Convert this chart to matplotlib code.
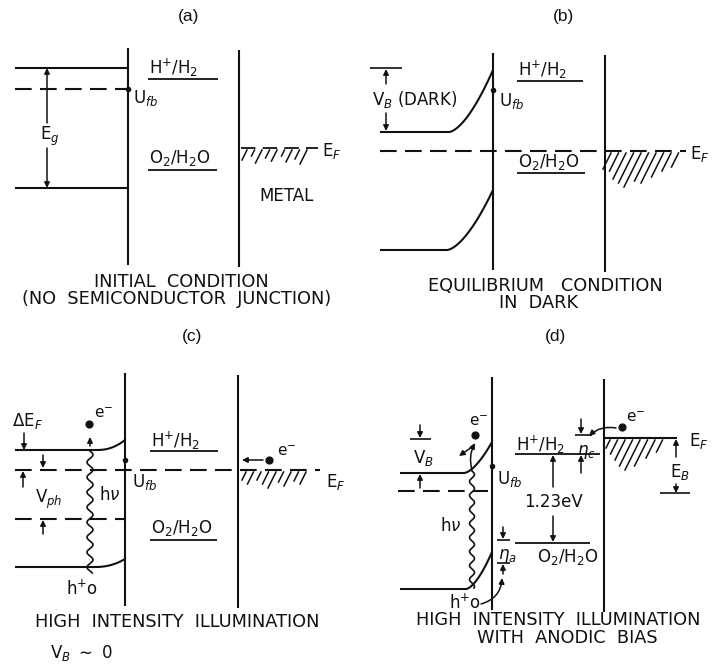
import numpy as np
import matplotlib.pyplot as plt

INK = "#111111"
LW = 1.5
FS = 12
CAP_FS = 12.8

plt.rcParams.update({
    "font.family": "DejaVu Sans",
    "mathtext.fontset": "dejavusans",
    "text.color": INK,
})

# panel tags and captions
tags = ["(a)", "(b)", "(c)", "(d)"]
tag_x = [189, 563, 192, 555]
tag_y = [17, 17, 337, 337]
captions = [["INITIAL  CONDITION", "(NO  SEMICONDUCTOR  JUNCTION)"],
            ["EQUILIBRIUM   CONDITION", "IN  DARK"],
            ["HIGH  INTENSITY  ILLUMINATION"],
            ["HIGH  INTENSITY  ILLUMINATION", "WITH  ANODIC  BIAS"]]
cap_x = [[181, 177], [545, 539], [177], [558, 567]]
cap_y = [[282, 299], [286, 303], [622], [620, 638]]

# electrode walls: semiconductor / electrolyte and electrolyte / metal
sc_x = [128, 493, 125, 492]
metal_x = [239, 605, 238, 604]
wall_top = [48, 53, 373, 377]
wall_bot = [265, 270, 606, 610]

# level positions, y in figure pixels (down = lower energy)
a_cb, a_ufb, a_vb, a_h2, a_o2, a_ef = 68, 89, 188, 79, 170, 148
b_cb, b_cb_s, b_vb, b_vb_s, b_h2, b_o2, b_ef, b_ufb = 132, 70, 250, 190, 81, 173, 151, 90
c_cb, c_cb_s, c_vb, c_vb_s, c_h2, c_o2 = 450, 440, 567, 559, 451, 540
c_efn, c_efp, c_ufb, c_e = 470, 519, 460, 460
d_cb, d_cb_s, d_vb, d_vb_s, d_h2, d_o2 = 473, 442, 589, 552, 454, 543
d_ef, d_eb, d_dash, d_ufb = 438, 493, 491, 466

fig = plt.figure(figsize=(7.13, 6.65), dpi=100)
ax = fig.add_axes([0, 0, 1, 1])
ax.set_xlim(0, 713)
ax.set_ylim(665, 0)
ax.axis("off")


def line(xs, ys, dashed=False, lw=LW):
    ax.plot(xs, ys, color=INK, lw=lw, ls=(0, (8, 4)) if dashed else "-",
            solid_capstyle="butt")


def arrow(tail, tip, rad=0.0, lw=1.1, ms=8):
    ax.annotate("", xy=tip, xytext=tail,
                arrowprops=dict(arrowstyle="-|>", color=INK, lw=lw,
                                mutation_scale=ms, shrinkA=0, shrinkB=0,
                                connectionstyle=f"arc3,rad={rad}"))


def label(x, y, s, size=FS, ha="left"):
    ax.text(x, y, s, ha=ha, va="center", fontsize=size)


def band(y_flat, y_surf, x0, x_knee, x_surf, p=1.6):
    xs = np.linspace(x_knee, x_surf, 60)
    t = (xs - x_knee) / (x_surf - x_knee)
    ys = y_flat + (y_surf - y_flat) * t ** p
    line(np.r_[x0, xs], np.r_[y_flat, ys])


def photon(x, y0, y1, amp=3.0, wl=15.0):
    ys = np.linspace(y0, y1, 300)
    xs = x + amp * np.sin(2 * np.pi * (ys - y0) / wl)
    ax.plot(xs, ys, color=INK, lw=1.2)


def hatch(x0, y, lengths, step=7.5):
    for i, ln in enumerate(lengths):
        xt = x0 + 6 + i * step
        ax.plot([xt, xt - 0.5 * ln], [y + 2, y + 2 + ln], color=INK, lw=1.1)


def dot(x, y, r=3.5):
    ax.plot([x], [y], "o", color=INK, ms=r * 1.4 if r > 2 else 3, mec=INK)


def redox(x0, x1, y_line, y_text, s):
    line([x0, x1], [y_line, y_line], lw=1.3)
    label(x0 + 1, y_text, s)


# tags, captions, walls
for i in range(4):
    ax.text(tag_x[i], tag_y[i], tags[i], ha="center", va="center",
            fontsize=12.5, family="Liberation Sans")
    for s, cx, cy in zip(captions[i], cap_x[i], cap_y[i]):
        ax.text(cx, cy, s, ha="center", va="center", fontsize=CAP_FS)
    line([sc_x[i], sc_x[i]], [wall_top[i], wall_bot[i]])
    line([metal_x[i], metal_x[i]], [wall_top[i] + 2, wall_bot[i] + 2])

# ---- (a) before contact ----
line([15, sc_x[0]], [a_cb, a_cb])
line([15, sc_x[0]], [a_vb, a_vb])
line([15, sc_x[0]], [a_ufb, a_ufb], dashed=True)
dot(sc_x[0], a_ufb, 2)
label(133, 98, r"U$_{fb}$")
arrow((47, 123), (47, a_cb))
arrow((47, 148), (47, a_vb))
label(50, 136, r"E$_g$", ha="center")
redox(148, 218, a_h2, 68, r"H$^{+}$/H$_2$")
redox(148, 217, a_o2, 158, r"O$_2$/H$_2$O")
line([241, 318], [a_ef, a_ef], dashed=True, lw=1.3)
hatch(241, a_ef, [10, 6, 13, 8, 11, 6, 12, 9, 14])
label(322, 151, r"E$_F$")
label(287, 196, "METAL", ha="center")

# ---- (b) equilibrium in the dark ----
band(b_cb, b_cb_s, 380, 449, sc_x[1])
band(b_vb, b_vb_s, 380, 447, sc_x[1])
line([380, 686], [b_ef, b_ef], dashed=True)
dot(sc_x[1], b_ufb, 2)
label(499, 101, r"U$_{fb}$")
line([370, 402], [68, 68], lw=1.2)
arrow((386, 84), (386, 69))
arrow((386, 113), (386, b_cb - 1))
label(372, 99, r"V$_B$ (DARK)")
redox(517, 583, b_h2, 70, r"H$^{+}$/H$_2$")
redox(517, 585, b_o2, 162, r"O$_2$/H$_2$O")
hatch(605, b_ef, [16, 18, 26, 30, 34, 28, 30, 24, 18, 14])
label(690, 154, r"E$_F$")

# ---- (c) high intensity illumination ----
band(c_cb, c_cb_s, 15, 97, sc_x[2], p=2.2)
band(c_vb, c_vb_s, 15, 95, sc_x[2], p=2.2)
line([15, 320], [c_efn, c_efn], dashed=True)
line([15, sc_x[2]], [c_efp, c_efp], dashed=True)
dot(sc_x[2], c_ufb, 2)
label(132, 482, r"U$_{fb}$")
photon(90, c_cb + 1, 573)
arrow((90, 446), (90, 437))
dot(89, 424)
label(94, 413, r"e$^{-}$", size=11)
label(99, 495, r"h$\nu$")
label(66, 589, r"h$^{+}$o")
label(12, 421, r"$\Delta$E$_F$")
arrow((24, 433), (24, c_cb))
arrow((43, 455), (43, c_efn - 2))
arrow((23, 487), (23, c_efn + 1))
label(35, 499, r"V$_{ph}$")
arrow((43, 534), (43, c_efp + 1))
redox(150, 218, c_h2, 441, r"H$^{+}$/H$_2$")
redox(150, 217, c_o2, 528, r"O$_2$/H$_2$O")
dot(269, c_e)
arrow((263, c_e), (242, c_e))
label(277, 452, r"e$^{-}$", size=11)
hatch(240, c_efn, [8, 12, 8, 12, 16, 10, 14, 9, 12])
label(326, 482, r"E$_F$")
label(50, 653, r"V$_B$ $\sim$ 0")

# ---- (d) illumination with anodic bias ----
band(d_cb, d_cb_s, 400, 464, sc_x[3], p=1.6)
band(d_vb, d_vb_s, 400, 466, sc_x[3], p=1.6)
line([398, 488], [d_dash, d_dash], dashed=True)
dot(sc_x[3], d_ufb, 2)
label(497, 479, r"U$_{fb}$")
photon(472, d_cb - 2, 588, amp=2.5, wl=14)
arrow((472, 470), (475, 443), rad=-0.2)
arrow((472, 447), (459, 456))
dot(475, 435)
label(469, 422, r"e$^{-}$", size=11)
label(440, 526, r"h$\nu$")
line([410, 431], [439, 439], lw=1.2)
arrow((420, 425), (420, 438))
arrow((420, 488), (420, d_cb + 1))
label(413, 458, r"V$_B$")
label(449, 603, r"h$^{+}$o")
arrow((481, 604), (502, 578), rad=0.35)
line([497, 510], [540, 540], lw=1.2)
arrow((503, 527), (503, 539))
line([497, 510], [563, 563], lw=1.2)
arrow((503, 574), (503, 564))
label(498, 556, r"$\eta_a$")
redox(515, 600, d_h2, 445, r"H$^{+}$/H$_2$")
label(577, 452, r"$\eta_c$")
line([575, 592], [435, 435], lw=1.2)
arrow((581, 419), (581, 434))
arrow((581, 473), (581, d_h2 + 1))
line([515, 590], [d_o2, d_o2], lw=1.3)
label(537, 557, r"O$_2$/H$_2$O")
arrow((553, 487), (553, d_h2 + 1))
arrow((553, 516), (553, d_o2 - 1))
label(554, 502, "1.23eV", ha="center")
line([605, 677], [d_ef, d_ef])
hatch(604, d_ef, [8, 14, 20, 26, 30, 26, 18, 12])
label(689, 441, r"E$_F$")
dot(622, 427)
label(626, 418, r"e$^{-}$", size=11)
arrow((616, 428), (589, 436), rad=0.25)
arrow((676, 457), (676, d_ef + 1))
label(670, 472, r"E$_B$")
arrow((676, 484), (676, d_eb))
line([660, 690], [d_eb, d_eb], lw=1.2)

fig.savefig("out.png", dpi=100, facecolor="white")
